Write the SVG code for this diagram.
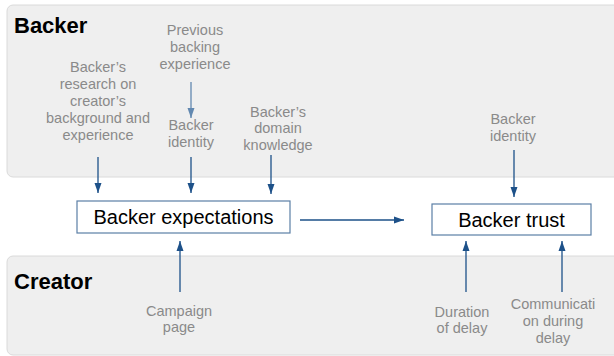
<svg xmlns="http://www.w3.org/2000/svg" width="614" height="356" viewBox="0 0 614 356">
<defs>
<style>
.panel{fill:#efefef;stroke:#dadada;stroke-width:1}
.title{font-family:"Liberation Sans",Arial,sans-serif;font-weight:bold;font-size:22px;fill:#000}
.lbl{font-family:"Liberation Sans",Arial,sans-serif;font-size:14.5px;fill:#8a8a8a;text-anchor:middle}
.box{fill:#fff;stroke:#5b7fa6;stroke-width:1.2}
.boxt{font-family:"Liberation Sans",Arial,sans-serif;font-size:20px;fill:#000;text-anchor:middle}
.arr{stroke:#1d5189;stroke-width:1.3;fill:none;marker-end:url(#ah)}
.arrl{stroke:#6288b0;stroke-width:1.3;fill:none;marker-end:url(#ahl)}
</style>
<marker id="ah" markerUnits="userSpaceOnUse" markerWidth="10" markerHeight="10" viewBox="0 0 10 10" refX="10" refY="5" orient="auto">
<path d="M0,1.5 L10,5 L0,8.5 z" fill="#1d5189"/>
</marker>
<marker id="ahl" markerUnits="userSpaceOnUse" markerWidth="10" markerHeight="10" viewBox="0 0 10 10" refX="10" refY="5" orient="auto">
<path d="M0,1.5 L10,5 L0,8.5 z" fill="#6288b0"/>
</marker>
</defs>
<rect width="614" height="356" fill="#fff"/>
<g id="backer-panel">
<rect class="panel" x="7" y="5" width="620" height="172" rx="6"/>
<text class="title" x="14" y="33">Backer</text>
</g>
<g id="creator-panel">
<rect class="panel" x="7" y="256" width="620" height="99" rx="6"/>
<text class="title" x="14" y="289">Creator</text>
</g>
<g id="research">
<text class="lbl" x="98" y="72">Backer’s</text>
<text class="lbl" x="98" y="89">research on</text>
<text class="lbl" x="98" y="106">creator’s</text>
<text class="lbl" x="98" y="123">background and</text>
<text class="lbl" x="98" y="140">experience</text>
</g>
<g id="previous">
<text class="lbl" x="195" y="35">Previous</text>
<text class="lbl" x="195" y="52">backing</text>
<text class="lbl" x="195" y="69">experience</text>
</g>
<g id="identity1">
<text class="lbl" x="191" y="130">Backer</text>
<text class="lbl" x="191" y="147">identity</text>
</g>
<g id="domain">
<text class="lbl" x="278" y="117">Backer’s</text>
<text class="lbl" x="278" y="133">domain</text>
<text class="lbl" x="278" y="150">knowledge</text>
</g>
<g id="identity2">
<text class="lbl" x="513" y="124">Backer</text>
<text class="lbl" x="513" y="141">identity</text>
</g>
<g id="expectations">
<rect class="box" x="77" y="201" width="213" height="32"/>
<text class="boxt" x="183.5" y="223.5">Backer expectations</text>
</g>
<g id="trust">
<rect class="box" x="432" y="204" width="159" height="31"/>
<text class="boxt" x="511.5" y="226.5">Backer trust</text>
</g>
<g id="campaign">
<text class="lbl" x="179" y="316">Campaign</text>
<text class="lbl" x="179" y="332">page</text>
</g>
<g id="duration">
<text class="lbl" x="462" y="317">Duration</text>
<text class="lbl" x="462" y="333">of delay</text>
</g>
<g id="communication">
<text class="lbl" x="553" y="309">Communicati</text>
<text class="lbl" x="553" y="326">on during</text>
<text class="lbl" x="553" y="343">delay</text>
</g>
<g id="connectors">
<line class="arrl" x1="191" y1="82" x2="191" y2="118"/>
<line class="arr" x1="98" y1="157" x2="98" y2="193"/>
<line class="arr" x1="191" y1="157" x2="191" y2="193"/>
<line class="arr" x1="271" y1="155" x2="271" y2="194"/>
<line class="arr" x1="514" y1="150" x2="514" y2="197"/>
<line class="arr" x1="180" y1="292" x2="180" y2="241"/>
<line class="arr" x1="466" y1="292" x2="466" y2="241"/>
<line class="arr" x1="562" y1="292" x2="562" y2="241"/>
<line class="arr" x1="300" y1="220" x2="404" y2="220"/>
</g>
</svg>
